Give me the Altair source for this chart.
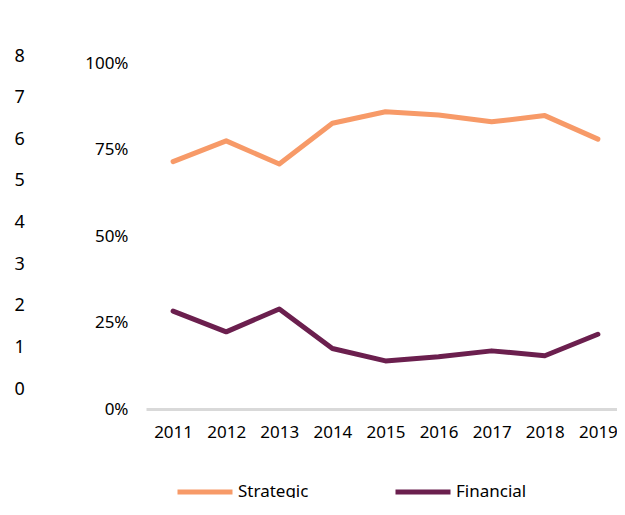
import altair as alt
import pandas as pd

years = [2011, 2012, 2013, 2014, 2015, 2016, 2017, 2018, 2019]
strategic = [0.715, 0.775, 0.708, 0.826, 0.859, 0.850, 0.830, 0.848, 0.780]
financial = [0.283, 0.223, 0.289, 0.175, 0.139, 0.151, 0.168, 0.154, 0.216]
series_names = ["Strategic", "Financial"]
series_colors = ["#F79A68", "#6B1F4E"]
left_ticks = [0, 1, 2, 3, 4, 5, 6, 7, 8]

rows = []
for i, y in enumerate(years):
    rows.append({"year": y, "series": "Strategic", "value": strategic[i]})
    rows.append({"year": y, "series": "Financial", "value": financial[i]})
df = pd.DataFrame(rows)
df_left = pd.DataFrame({"v": left_ticks})

W = 471
H = 346

x_enc = alt.X(
    "year:Q",
    scale=alt.Scale(domain=[2010.49, 2019.36], nice=False, zero=False),
    axis=alt.Axis(
        title=None, values=years, format="d", labelAngle=0, ticks=False, tickSize=0,
        grid=False, domain=True, domainColor="#D9D9D9", domainWidth=3, labelPadding=15,
        labelFont="Noto Sans", labelFontSize=17, labelColor="#000000", labelFlush=False,
    ),
)

lines = alt.Chart(df).mark_line(strokeWidth=5, strokeCap="round", strokeJoin="round").encode(
    x=x_enc,
    y=alt.Y(
        "value:Q",
        scale=alt.Scale(domain=[0, 1]),
        axis=alt.Axis(
            title=None, orient="left", format=".0%", values=[0, 0.25, 0.5, 0.75, 1.0],
            grid=False, domain=False, ticks=False, tickSize=0, labelPadding=18,
            labelFont="Noto Sans", labelFontSize=17, labelColor="#000000",
        ),
    ),
    color=alt.Color(
        "series:N",
        sort=series_names,
        scale=alt.Scale(domain=series_names, range=series_colors),
        legend=alt.Legend(
            title=None, orient="none", legendX=29, legendY=399, direction="horizontal",
            symbolType="stroke", symbolSize=3025, symbolStrokeWidth=5,
            labelFont="Noto Sans", labelFontSize=17, labelColor="#000000",
            labelOffset=3, columnPadding=76,
        ),
    ),
)

left_axis = alt.Chart(df_left).mark_point(opacity=0).encode(
    y=alt.Y(
        "v:Q",
        scale=alt.Scale(domain=[0, 8], range=[326, -7]),
        axis=alt.Axis(
            title=None, orient="left", offset=132, values=left_ticks,
            grid=False, domain=False, ticks=False, tickSize=0, labelPadding=0,
            labelFont="Noto Sans", labelFontSize=18, labelColor="#000000",
            labelAlign="left",
        ),
    ),
)

chart = alt.layer(lines, left_axis).resolve_scale(y="independent").properties(
    width=W, height=H,
    autosize=alt.AutoSizeParams(type="none"),
    padding={"left": 138, "top": 55, "right": 0, "bottom": 89},
).configure_view(stroke=None)

chart.save("out.html", embed_options={"renderer": "svg", "actions": False})
